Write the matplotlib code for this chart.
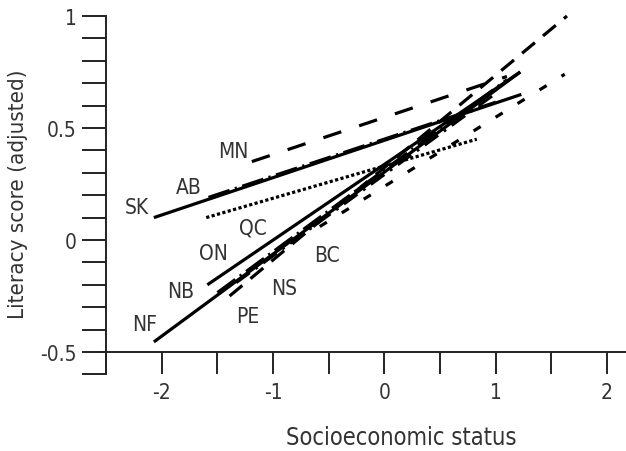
import matplotlib
matplotlib.use("Agg")
import matplotlib.pyplot as plt
from matplotlib.ticker import MultipleLocator

provinces = ["SK", "AB", "MN", "QC", "ON", "NB", "NF", "PE", "NS", "BC"]
x_start = [-2.07, -1.58, -1.19, -1.60, -1.59, -1.50, -2.07, -1.39, -1.33, -0.58]
y_start = [0.10, 0.185, 0.35, 0.10, -0.20, -0.24, -0.455, -0.25, -0.185, 0.06]
x_end = [1.23, 1.00, 1.10, 0.83, 1.22, 1.10, 1.22, 1.64, 1.00, 1.62]
y_end = [0.65, 0.61, 0.73, 0.45, 0.75, 0.71, 0.75, 1.00, 0.66, 0.74]

x_ticks = [-2, -1, 0, 1, 2]
x_tick_labels = ["-2", "-1", "0", "1", "2"]
y_ticks = [-0.5, 0, 0.5, 1]
y_tick_labels = ["-0.5", "0", "0.5", "1"]

label_pos = {
    "SK": (-2.22, 0.147), "AB": (-1.76, 0.237), "MN": (-1.357, 0.397),
    "QC": (-1.177, 0.054), "ON": (-1.535, -0.058), "NB": (-1.832, -0.228),
    "NF": (-2.155, -0.375), "PE": (-1.231, -0.339), "NS": (-0.898, -0.214),
    "BC": (-0.512, -0.067),
}

styles = {
    "SK": dict(ls="-", lw=2.3),
    "AB": dict(ls=(0, (8, 2.0, 0.8, 2.0)), lw=2.0),
    "MN": dict(ls=(0, (5.9, 5.9)), lw=2.3),
    "QC": dict(ls=(0, (1, 0.75)), lw=2.3),
    "ON": dict(ls="-", lw=2.3),
    "NB": dict(ls=(0, (8, 2.0, 0.8, 2.0)), lw=2.0),
    "NF": dict(ls="-", lw=2.3),
    "PE": dict(ls=(0, (5.2, 3.3)), lw=2.3),
    "NS": dict(ls=(0, (6, 2.5, 1, 2.5)), lw=2.0),
    "BC": dict(ls=(0, (2.6, 5.5)), lw=2.3),
}
offsets = {"AB": 0.006, "NB": 0.006, "NS": -0.006}

plt.rcParams["font.family"] = ["DejaVu Sans"]
plt.rcParams["font.stretch"] = "condensed"
plt.rcParams["axes.unicode_minus"] = False
txt_color = "#333333"

fig = plt.figure(figsize=(6.26, 4.52), dpi=100)
ax = fig.add_axes([106 / 626, (452 - 375.4) / 452, 520 / 626, 358.4 / 452])
ax.set_xlim(-2.5, 2.17)
ax.set_ylim(-0.6, 1.0)

for i, p in enumerate(provinces):
    off = offsets.get(p, 0.0)
    st = styles[p]
    ax.plot([x_start[i], x_end[i]], [y_start[i] + off, y_end[i] + off],
            color="black", linestyle=st["ls"], linewidth=st["lw"],
            solid_capstyle="butt", dash_capstyle="butt", clip_on=False)
    lx, ly = label_pos[p]
    ax.text(lx, ly, p, fontsize=15, color=txt_color, ha="center", va="center",
            fontstretch="condensed")

for s in ["top", "right"]:
    ax.spines[s].set_visible(False)
ax.spines["bottom"].set_position(("data", -0.5))
ax.spines["left"].set_bounds(-0.6, 1.0)
ax.spines["bottom"].set_bounds(-2.56, 2.17)
for s in ["left", "bottom"]:
    ax.spines[s].set_linewidth(1.4)
    ax.spines[s].set_color("#222222")

ax.set_xticks(x_ticks)
ax.set_xticklabels(x_tick_labels, fontstretch="condensed")
ax.xaxis.set_minor_locator(MultipleLocator(0.5))
ax.set_yticks(y_ticks)
ax.set_yticklabels(y_tick_labels, fontstretch="condensed")
ax.yaxis.set_minor_locator(MultipleLocator(0.1))
ax.tick_params(axis="x", which="both", direction="out", length=15.8, width=1.4,
               color="#222222", pad=6, labelsize=15, labelcolor=txt_color)
ax.tick_params(axis="y", which="both", direction="out", length=17, width=1.4,
               color="#222222", pad=4, labelsize=15, labelcolor=txt_color)

fig.text(401 / 626, 1 - 438 / 452, "Socioeconomic status", fontsize=17,
         color=txt_color, ha="center", va="center", fontstretch="condensed")
fig.text(18 / 626, 1 - 194 / 452, "Literacy score (adjusted)", fontsize=16,
         color=txt_color, ha="center", va="center", rotation=90,
         fontstretch="condensed")

fig.savefig("out.png", dpi=100)
